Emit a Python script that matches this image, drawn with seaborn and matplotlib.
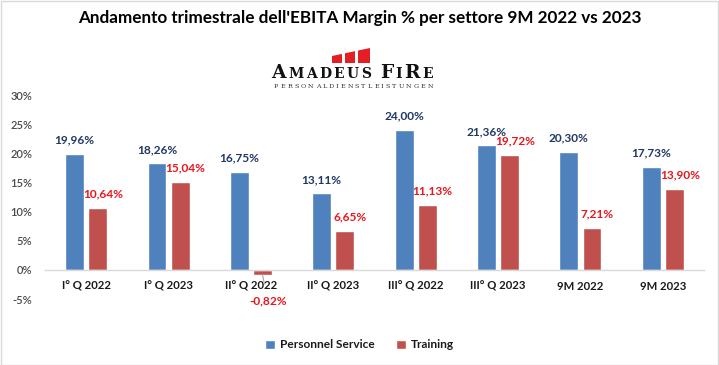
import matplotlib
matplotlib.use("Agg")
import matplotlib.pyplot as plt
from matplotlib.patches import Rectangle, Polygon
import seaborn as sns
import pandas as pd

categories = ["I° Q 2022", "I° Q 2023", "II° Q 2022", "II° Q 2023",
              "III° Q 2022", "III° Q 2023", "9M 2022", "9M 2023"]
personnel_service = [19.96, 18.26, 16.75, 13.11, 24.00, 21.36, 20.30, 17.73]
training = [10.64, 15.04, -0.82, 6.65, 11.13, 19.72, 7.21, 13.90]
series_names = ["Personnel Service", "Training"]
y_ticks = [-5, 0, 5, 10, 15, 20, 25, 30]
title = "Andamento trimestrale dell'EBITA Margin % per settore 9M 2022 vs 2023"
logo_name = [("A", "big"), ("M", "small"), ("A", "small"), ("D", "small"), ("E", "small"),
             ("U", "small"), ("S", "small"), (" ", "small"), ("F", "big"), ("I", "small"),
             ("R", "big"), ("E", "small")]
logo_tagline = "PERSONALDIENSTLEISTUNGEN"

BLUE = "#4F81BD"
RED = "#C0504D"
BLUE_TXT = "#1F3864"
RED_TXT = "#E8161C"

df = pd.DataFrame({
    "Periodo": categories * 2,
    "Valore": personnel_service + training,
    "Serie": [series_names[0]] * len(categories) + [series_names[1]] * len(categories),
})

sns.set_theme(style="white")
plt.rcParams["font.family"] = ["Lato", "DejaVu Sans"]

W, H = 719, 365
fig = plt.figure(figsize=(W / 100, H / 100), dpi=100)
ax = fig.add_axes([45 / W, (H - 299) / H, (704 - 45) / W, (299 - 95) / H])

sns.barplot(data=df, x="Periodo", y="Valore", hue="Serie", order=categories,
            hue_order=series_names, palette=[BLUE, RED], width=0.56, gap=0.18,
            saturation=1, ax=ax, legend=True)

ax.set_ylim(-5, 30)
ax.set_yticks(y_ticks)
ax.set_yticklabels([f"{t}%" for t in y_ticks], color="#4a4a4a", fontsize=8)
for lbl in ax.get_yticklabels():
    lbl.set_fontweight("semibold")
ax.set_xlabel("")
ax.set_ylabel("")
for s in ["top", "right", "left"]:
    ax.spines[s].set_visible(False)
ax.spines["bottom"].set_position(("data", 0))
ax.spines["bottom"].set_color("#D9D9D9")
ax.spines["bottom"].set_linewidth(1)
ax.tick_params(axis="both", length=0)
ax.tick_params(axis="y", pad=9)
ax.tick_params(axis="x", pad=8)
for lbl in ax.get_xticklabels():
    lbl.set_fontweight("bold")
    lbl.set_fontsize(8.2)
    lbl.set_color("#1a1a1a")

# data labels
for container, color, dx in zip(ax.containers, [BLUE_TXT, RED_TXT], [0, 4]):
    for bar in container:
        v = bar.get_height()
        x = bar.get_x() + bar.get_width() / 2
        txt = f"{v:.2f}".replace(".", ",") + "%"
        if v >= 0:
            ax.annotate(txt, (x, v), xytext=(dx, 10), textcoords="offset points",
                        ha="center", va="center", color=color, fontsize=8.6,
                        fontweight="bold")
        else:
            ax.annotate(txt, (x, v), xytext=(dx, -19), textcoords="offset points",
                        ha="center", va="center", color=color, fontsize=8.6,
                        fontweight="bold",
                        arrowprops=dict(arrowstyle="-", color="#A6A6A6", lw=0.8,
                                        shrinkA=6, shrinkB=0))

# legend
handles, labels = ax.get_legend_handles_labels()
ax.get_legend().remove()
leg = fig.legend(handles, labels, loc="center", bbox_to_anchor=(0.5, 1 - 345 / H),
                 ncol=2, frameon=False, handlelength=0.8, handleheight=0.8,
                 columnspacing=1.8, handletextpad=0.4,
                 prop={"weight": "bold", "size": 8.6})
for t in leg.get_texts():
    t.set_color("#1a1a1a")

# title
fig.text(0.5, 1 - 18 / H, title, ha="center", va="center", fontsize=12.3,
         fontweight="bold", color="black")

# logo: red blocks with slanted tops
def top_y(x):
    return 56 - (x - 332) * 8 / 38

for x0, x1 in [(332, 342), (345, 355), (358, 370)]:
    pts = [(x0, 63), (x1, 63), (x1, top_y(x1)), (x0, top_y(x0))]
    fig.patches.append(Polygon([(px / W, 1 - py / H) for px, py in pts], closed=True,
                               transform=fig.transFigure, facecolor="#E31E24", lw=0))

fig.canvas.draw()
renderer = fig.canvas.get_renderer()


def spread_text(chars, x_left, x_right, y_base, sizes, color, weight):
    arts = []
    widths = []
    for ch, fs in zip(chars, sizes):
        t = fig.text(0, 1 - y_base / H, ch, ha="left", va="baseline", fontsize=fs,
                     family=["DejaVu Serif"], color=color, fontweight=weight)
        w = t.get_window_extent(renderer=renderer).width
        if ch == " ":
            w = fs * 0.4
        arts.append(t)
        widths.append(w)
    extra = (x_right - x_left - sum(widths)) / max(len(chars) - 1, 1)
    xc = x_left
    for t, w in zip(arts, widths):
        t.set_x(xc / W)
        xc += w + extra


sizes = [13.5 if k == "big" else 10.0 for _, k in logo_name]
spread_text([c for c, _ in logo_name], 271, 433, 78, sizes, "#111111", "bold")
spread_text(list(logo_tagline), 274, 433, 88.5, [4.6] * len(logo_tagline), "#333333",
            "normal")

fig.patches.append(Rectangle((0.5 / W, 0.5 / H), (W - 1.5) / W, (H - 1.5) / H,
                             transform=fig.transFigure, fill=False,
                             edgecolor="#D9D9D9", lw=1))

fig.savefig("out.png", dpi=100)
